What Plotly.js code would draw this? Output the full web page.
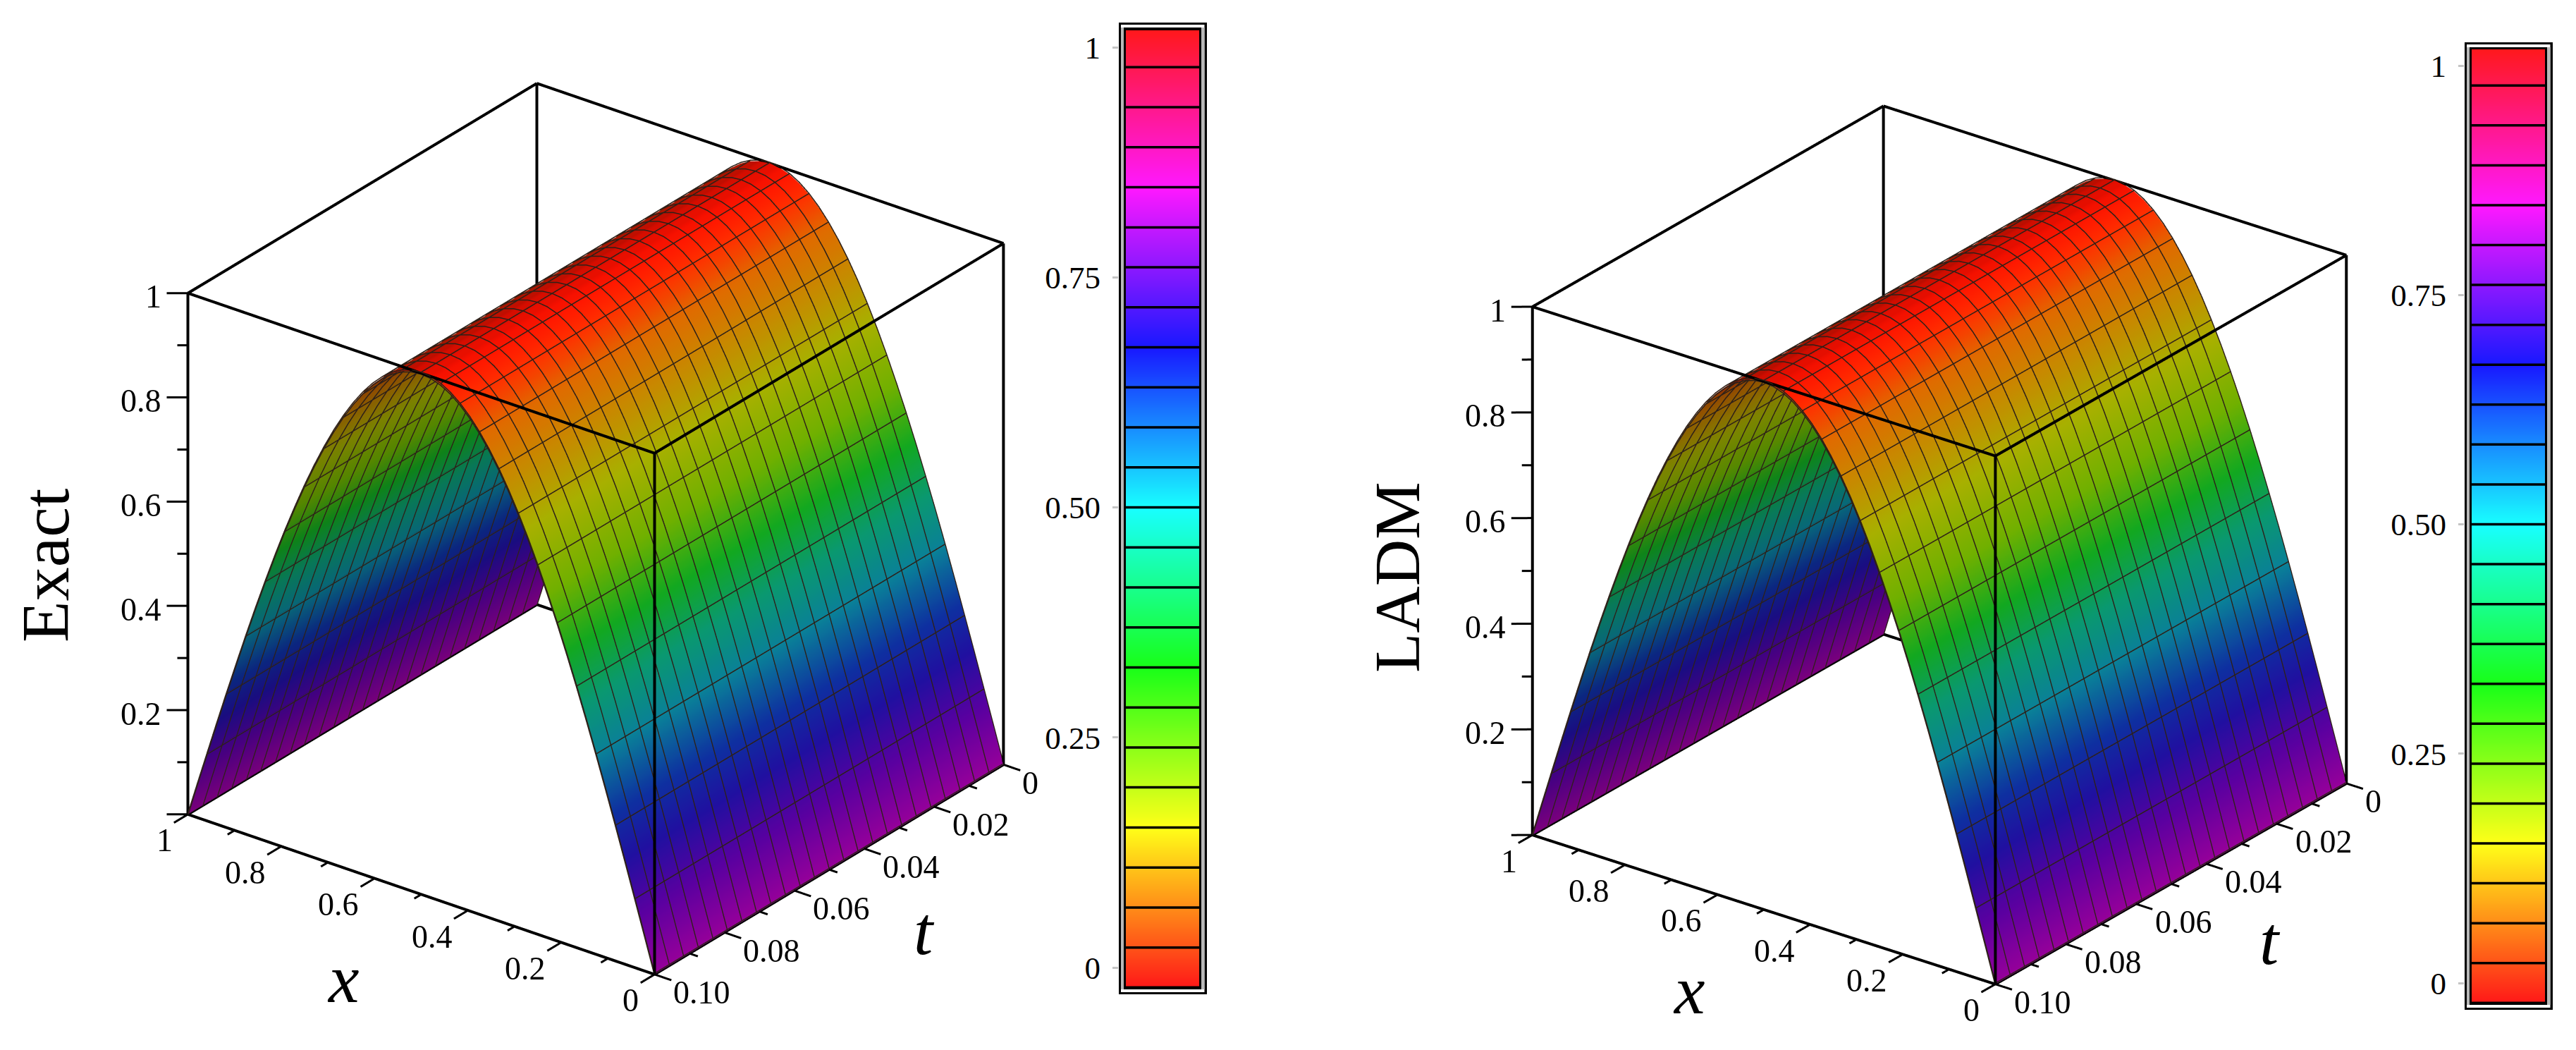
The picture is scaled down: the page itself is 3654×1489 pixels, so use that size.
<!DOCTYPE html>
<html><head><meta charset="utf-8">
<script src="https://cdn.plot.ly/plotly-3.0.1.min.js"></script>
<style>html,body{margin:0;padding:0;background:#fff}#g{width:3654px;height:1489px}</style></head>
<body><div id="g"></div>
<script>
var W=3654,H=1489;
// surface grid
var xValues=[0,0.0208,0.0417,0.0625,0.0833,0.1042,0.125,0.1458,0.1667,0.1875,0.2083,0.2292,0.25,0.2708,0.2917,0.3125,0.3333,0.3542,0.375,0.3958,0.4167,0.4375,0.4583,0.4792,0.5,0.5208,0.5417,0.5625,0.5833,0.6042,0.625,0.6458,0.6667,0.6875,0.7083,0.7292,0.75,0.7708,0.7917,0.8125,0.8333,0.8542,0.875,0.8958,0.9167,0.9375,0.9583,0.9792,1];
var profile=[0,0.0654,0.1305,0.1951,0.2588,0.3214,0.3827,0.4423,0.5,0.5556,0.6088,0.6593,0.7071,0.7518,0.7934,0.8315,0.866,0.8969,0.9239,0.9469,0.9659,0.9808,0.9914,0.9979,1,0.9979,0.9914,0.9808,0.9659,0.9469,0.9239,0.8969,0.866,0.8315,0.7934,0.7518,0.7071,0.6593,0.6088,0.5556,0.5,0.4423,0.3827,0.3214,0.2588,0.1951,0.1305,0.0654,0];
var tValues=[0,0.0042,0.0083,0.0125,0.0167,0.0208,0.025,0.0292,0.0333,0.0375,0.0417,0.0458,0.05,0.0542,0.0583,0.0625,0.0667,0.0708,0.075,0.0792,0.0833,0.0875,0.0917,0.0958,0.1];
var xTicks=[0,0.2,0.4,0.6,0.8,1], xMinor=[0.1,0.3,0.5,0.7,0.9];
var xTickText=['0','0.2','0.4','0.6','0.8','1'];
var tTicks=[0,0.02,0.04,0.06,0.08,0.1], tMinor=[0.01,0.03,0.05,0.07,0.09];
var tTickText=['0','0.02','0.04','0.06','0.08','0.10'];
var zTicks=[0.2,0.4,0.6,0.8,1], zMinor=[0.1,0.3,0.5,0.7,0.9];
var zTickText=['0.2','0.4','0.6','0.8','1'];
var barBoundaries=[-0.0217,0.0217,0.0652,0.1087,0.1522,0.1957,0.2391,0.2826,0.3261,0.3696,0.413,0.4565,0.5,0.5435,0.587,0.6304,0.6739,0.7174,0.7609,0.8043,0.8478,0.8913,0.9348,0.9783,1.0217];
var barColors=['#ff1818','#ff5218','#ff8c18','#ffc518','#ffff18','#c5ff18','#8cff18','#52ff18','#18ff18','#18ff52','#18ff8c','#18ffc5','#18ffff','#18c5ff','#188cff','#1852ff','#1818ff','#5218ff','#8c18ff','#c518ff','#ff18ff','#ff18c5','#ff188c','#ff1852','#ff1818'];
var barTickVals=[0,0.25,0.5,0.75,1], barTickText=['0','0.25','0.50','0.75','1'];
var surfaceColors=[[0,'#96009a'],[0.1,'#5a00a0'],[0.2,'#2010a0'],[0.28,'#0e30a0'],[0.38,'#0a8098'],[0.47,'#0a9870'],[0.56,'#12a820'],[0.66,'#70b000'],[0.77,'#a8b000'],[0.92,'#e06a00'],[0.97,'#ff3000'],[1,'#ff1000']];

var Z=tValues.map(function(){return profile;});
var serif='"Liberation Serif",serif';

function boxTrace(sc){
  var X=[],Y=[],Z2=[];
  function seg(a,b){X.push(a[0],b[0],null);Y.push(a[1],b[1],null);Z2.push(a[2],b[2],null);}
  var t1=0.1;
  [[0,0],[1,0],[0,t1],[1,t1]].forEach(function(c){seg([c[0],c[1],0],[c[0],c[1],1]);});
  [0,1].forEach(function(z){
    seg([0,0,z],[1,0,z]);seg([0,t1,z],[1,t1,z]);seg([0,0,z],[0,t1,z]);seg([1,0,z],[1,t1,z]);
  });
  return {type:'scatter3d',mode:'lines',scene:sc,x:X,y:Y,z:Z2,line:{color:'#000',width:8},hoverinfo:'skip',showlegend:false};
}
function tickTrace(sc){
  var X=[],Y=[],Zs=[];
  function add(a,b){X.push(a[0],b[0],null);Y.push(a[1],b[1],null);Zs.push(a[2],b[2],null);}
  xTicks.forEach(function(v){add([v,0.1,0],[v,0.104,0]);});
  xMinor.forEach(function(v){add([v,0.1,0],[v,0.102,0]);});
  tTicks.forEach(function(v){add([0,v,0],[-0.036,v,0]);});
  tMinor.forEach(function(v){add([0,v,0],[-0.018,v,0]);});
  [0].concat(zTicks).forEach(function(v){add([1,0.1,v],[1.029,0.1022,v]);});
  zMinor.forEach(function(v){add([1,0.1,v],[1.0145,0.1011,v]);});
  return {type:'scatter3d',mode:'lines',scene:sc,x:X,y:Y,z:Zs,line:{color:'#000',width:6},hoverinfo:'skip',showlegend:false};
}
function gridTrace(sc,off){
  var X=[],Y=[],Zs=[];
  tValues.forEach(function(t){
    xValues.forEach(function(x,i){X.push(x);Y.push(t);Zs.push(profile[i]+off);});
    X.push(null);Y.push(null);Zs.push(null);
  });
  xValues.forEach(function(x,i){
    if(i%2)return;
    tValues.forEach(function(t){X.push(x);Y.push(t);Zs.push(profile[i]+off);});
    X.push(null);Y.push(null);Zs.push(null);
  });
  return {type:'scatter3d',mode:'lines',scene:sc,x:X,y:Y,z:Zs,line:{color:'#2e2018',width:3},hoverinfo:'skip',showlegend:false};
}
function surf(sc){
  return {type:'surface',scene:sc,x:xValues,y:tValues,z:Z,cmin:0,cmax:1,colorscale:surfaceColors,showscale:false,hoverinfo:'skip',
    lighting:{ambient:0.55,diffuse:0.7,specular:0,roughness:1,fresnel:0},lightposition:{x:3000,y:-3000,z:-6000},
    contours:{x:{show:false,highlight:false},y:{show:false,highlight:false},z:{show:false,highlight:false}}};
}
function sceneAnn(){
  var a=[],f={family:serif,size:46,color:'#000'};
  xTicks.forEach(function(v,i){a.push({x:v,y:0.1,z:0,text:xTickText[i],showarrow:false,xanchor:'right',yanchor:'middle',xshift:-20,yshift:-37,font:f});});
  tTicks.forEach(function(v,i){a.push({x:0,y:v,z:0,text:tTickText[i],showarrow:false,xanchor:'left',yanchor:'middle',xshift:25,yshift:-26,font:f});});
  zTicks.forEach(function(v,i){a.push({x:1,y:0.1,z:v,text:zTickText[i],showarrow:false,xanchor:'right',yanchor:'middle',xshift:-36,yshift:-5,font:f});});
  return a;
}
function sceneLayout(cx,cy,hw,hh,eye,aspect,up){
  var hidden={visible:false,showgrid:false,zeroline:false,showticklabels:false,showbackground:false,showspikes:false};
  function ax(r){var o=Object.assign({},hidden);o.range=r;return o;}
  return {domain:{x:[(cx-hw)/W,(cx+hw)/W],y:[1-(cy+hh)/H,1-(cy-hh)/H]},
    xaxis:ax([-0.1,1.1]),yaxis:ax([-0.01,0.11]),zaxis:ax([-0.1,1.1]),
    aspectmode:'manual',aspectratio:{x:aspect[0],y:aspect[1],z:aspect[2]},
    camera:{eye:{x:eye[0],y:eye[1],z:eye[2]},center:{x:0,y:0,z:0},up:{x:up[0],y:up[1],z:up[2]},projection:{type:'orthographic'}},
    annotations:sceneAnn()};
}
var K1=2,K2=2;
var S1=1.347,S2=1.39;
var scene1=sceneLayout(845,750,845,739,[-0.537*K1,0.711*K1,0.454*K1],[1.0*S1,0.99*S1,1.0*S1],[0.0043,0.0033,1]);
var scene2=sceneLayout(2751,773,845,716,[-0.542*K2,0.722*K2,0.429*K2],[0.99*S2,1.0*S2,1.0*S2],[0,0,1]);

function colorbar(xa,ya){
  var sep={X:[],Y:[]};
  barBoundaries.forEach(function(b){sep.X.push(10,114,null);sep.Y.push(b,b,null);});
  var stops=barColors.map(function(c,i){return [i/(barColors.length-1),c];});
  return [{type:'heatmap',xaxis:xa,yaxis:ya,x:[36,88],y:barBoundaries,z:barBoundaries.map(function(b,i){return [i,i];}),zmin:0,zmax:24,zsmooth:'best',colorscale:stops,showscale:false,hoverinfo:'skip'},
    {type:'scatter',xaxis:xa,yaxis:ya,mode:'lines',x:sep.X,y:sep.Y,line:{color:'#000',width:3.5},hoverinfo:'skip',showlegend:false}];
}
function cbAxes(n,left,cellTop,cellBottom,t1,t0){
  var pxPerUnit=t0-t1;
  var vTop=1+(t1-cellTop)/pxPerUnit, vBot=0-(cellBottom-t0)/pxPerUnit;
  var o={},xn=n==='1'?'':n;
  o['xaxis'+xn]={domain:[left/W,(left+125)/W],range:[0,125],showgrid:false,zeroline:false,showticklabels:false,ticks:'',fixedrange:true,anchor:'y'+xn};
  o['yaxis'+xn]={domain:[1-cellBottom/H,1-cellTop/H],range:[vBot,vTop],showgrid:false,zeroline:false,tickmode:'array',tickvals:barTickVals,ticktext:barTickText,ticks:'outside',ticklen:8,tickwidth:3,tickcolor:'#c4c4c4',ticklabelstandoff:8,tickfont:{family:serif,size:45,color:'#000'},showline:false,anchor:'x'+xn};
  return o;
}
function ring(xr,top,bottom){
  function py(p){return 1-p/H;}
  function rect(x0,x1,y0,y1,c){return {type:'rect',layer:'below',xref:xr,yref:'paper',x0:x0,x1:x1,y0:py(y0),y1:py(y1),fillcolor:c,line:{width:0}};}
  return [rect(0,125,top,bottom,'#000'),rect(3,121.5,top+3,bottom-3,'#fff'),rect(3,7,top+7,bottom-7,'#b8b8b8'),rect(117,121.5,top+7,bottom-7,'#b8b8b8'),rect(7,117,top+7,bottom-7,'#000')];
}
var data=[surf('scene'),gridTrace('scene',0.002),gridTrace('scene',-0.002),boxTrace('scene'),tickTrace('scene'),
          surf('scene2'),gridTrace('scene2',0.002),gridTrace('scene2',-0.002),boxTrace('scene2'),tickTrace('scene2')];
data=data.concat(colorbar('x','y')).concat(colorbar('x2','y2'));
function pa(t,px,py,size,italic,rot){return {xref:'paper',yref:'paper',x:px/W,y:1-py/H,xanchor:'center',yanchor:'middle',showarrow:false,textangle:rot||0,text:italic?'<i>'+t+'</i>':t,font:{family:serif,size:size,color:'#000'}};}
var layout={width:W,height:H,margin:{l:0,r:0,t:0,b:0},paper_bgcolor:'#fff',plot_bgcolor:'rgba(0,0,0,0)',showlegend:false,
  scene:scene1,scene2:scene2,
  shapes:ring('x',32,1410).concat(ring('x2',60,1432)),
  annotations:[pa('Exact',64,802,96,false,-90),pa('x',487,1388,98,true),pa('t',1311,1320,98,true),pa('LADM',1982,819,92,false,-90),pa('x',2396,1404,98,true),pa('t',3220,1334,98,true)]};
Object.assign(layout,cbAxes('1',1587,43,1400,67,1372),cbAxes('2',3496,70,1422,93,1394));
Plotly.newPlot('g',data,layout,{displayModeBar:false});
</script></body></html>
